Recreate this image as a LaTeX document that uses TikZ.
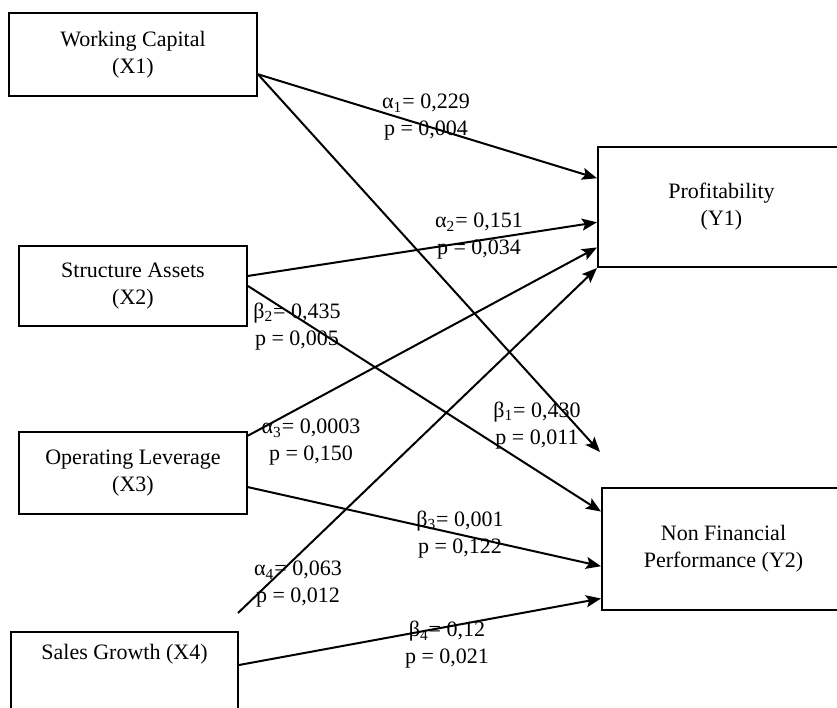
\documentclass[tikz,border=0pt]{standalone}
\usepackage{fontspec}
\setmainfont{Liberation Serif}
\usepackage{tikz}
\usetikzlibrary{arrows.meta,calc,positioning}
\tikzstyle{arrow} = [line width=1pt,->,>={Stealth[length=7.5pt,width=6pt,inset=1.5pt]}]
\tikzstyle{varbox} = [draw, line width=1pt, align=center, inner sep=0pt]
\tikzstyle{coef} = [align=center, inner sep=0pt]

\begin{document}
\begin{tikzpicture}[x=0.5pt,y=-0.5pt,font=\fontsize{11}{13.5}\selectfont]
            \clip (0,0) rectangle (837,708);
            % independent variables
            \node[varbox, minimum width=124pt, minimum height=41.5pt] (x1) at (133,54.5) {Working Capital\\(X1)};
            \node[varbox, minimum width=114pt, minimum height=40pt] (x2) at (133,286) {Structure Assets\\(X2)};
            \node[varbox, minimum width=114pt, minimum height=41pt] (x3) at (133,473) {Operating Leverage\\(X3)};
            \node[varbox, anchor=north, minimum width=113.5pt, inner ysep=6pt, text depth=30pt] (x4) at (124.5,631) {Sales Growth (X4)};
            % dependent variables
            \node[varbox, minimum width=123.5pt, minimum height=60pt] (y1) at (721.5,207) {Profitability\\(Y1)};
            \node[varbox, minimum width=121.5pt, minimum height=61pt] (y2) at (723.5,549) {Non Financial\\Performance (Y2)};
            \coordinate (a4start) at (238,613);
            \coordinate (b1end) at (600,452);
            % paths
            \draw[arrow] (x1.-9) -- (y1.167);
            \draw[arrow] (x1.-9) -- (b1end);
            \draw[arrow] (x2.5) -- (y1.187);
            \draw[arrow] (x2.east) -- (y2.163);
            \draw[arrow] (x3.18) -- (y1.198);
            \draw[arrow] (x3.-7) -- (y2.188);
            \draw[arrow] (a4start) -- (y1.south west);
            \draw[arrow] ($(x4.north east)+(0,34)$) -- (y2.202);
            % coefficients
            \node[coef] (la1) at (426,117.5) {α\textsubscript{1}= 0,229\\p = 0,004};
            \node[coef] (la2) at (479,236.5) {α\textsubscript{2}= 0,151\\p = 0,034};
            \node[coef] (la3) at (311,442.5) {α\textsubscript{3}= 0,0003\\p = 0,150};
            \node[coef] (la4) at (298,584.5) {α\textsubscript{4}= 0,063\\p = 0,012};
            \node[coef] (lb1) at (537,425.5) {β\textsubscript{1}= 0,430\\p = 0,011};
            \node[coef] (lb2) at (297,326.5) {β\textsubscript{2}= 0,435\\p = 0,005};
            \node[coef] (lb3) at (460,534.5) {β\textsubscript{3}= 0,001\\p = 0,122};
            \node[coef] (lb4) at (447,645) {β\textsubscript{4}= 0,12\\p = 0,021};
        \end{tikzpicture}
\end{document}
